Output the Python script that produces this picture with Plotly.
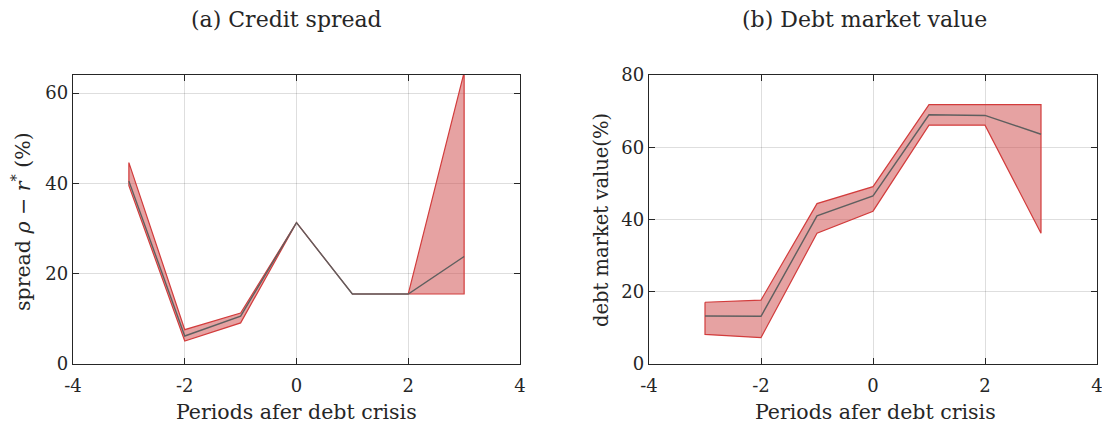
import plotly.graph_objects as go

periods = [-3, -2, -1, 0, 1, 2, 3]

spread_mean = [40.5, 6.2, 10.6, 31.3, 15.5, 15.5, 23.8]
spread_upper = [44.6, 7.6, 11.3, 31.3, 15.5, 15.5, 64.6]
spread_lower = [39.5, 5.1, 9.1, 31.3, 15.5, 15.5, 15.5]

debt_mean = [13.3, 13.2, 41.0, 46.5, 69.0, 68.8, 63.6]
debt_upper = [17.1, 17.7, 44.4, 49.1, 71.8, 71.8, 71.8]
debt_lower = [8.2, 7.3, 36.2, 42.3, 66.1, 66.1, 36.2]

x_ticks = [-4, -2, 0, 2, 4]
x_ticktext = ["-4", "-2", "0", "2", "4"]
y1_ticks = [0, 20, 40, 60]
y2_ticks = [0, 20, 40, 60, 80]

W, H = 1102, 430
FONT = "DejaVu Serif"
TXT = "#262626"
FILL = "rgba(205, 70, 70, 0.5)"
EDGE = "#d23c3c"
MEAN = "#5f5f5f"

fig = go.Figure()

def add_panel(xref, yref, lo, hi, mean):
    fig.add_trace(go.Scatter(
        x=periods + periods[::-1] + [periods[0]],
        y=hi + lo[::-1] + [hi[0]],
        fill="toself", fillcolor=FILL,
        line=dict(color=EDGE, width=1.2),
        mode="lines", xaxis=xref, yaxis=yref, hoverinfo="skip", showlegend=False))
    fig.add_trace(go.Scatter(
        x=periods, y=mean, mode="lines",
        line=dict(color=MEAN, width=1.4),
        xaxis=xref, yaxis=yref, showlegend=False))

add_panel("x", "y", spread_lower, spread_upper, spread_mean)
add_panel("x2", "y2", debt_lower, debt_upper, debt_mean)

def px_x(p):
    return p / W

def px_y(p):
    return 1 - p / H

ydom = [px_y(364), px_y(75)]

axis_common = dict(
    showline=True, linecolor=TXT, linewidth=1.3, mirror="allticks",
    ticks="inside", ticklen=6, tickcolor=TXT, tickwidth=1,
    showgrid=True, gridcolor="rgba(0,0,0,0.13)", gridwidth=1,
    zeroline=False, automargin=False, ticklabeloverflow="allow",
    tickfont=dict(family=FONT, size=18, color=TXT),
)

fig.update_layout(
    width=W, height=H,
    margin=dict(l=0, r=0, t=0, b=0, pad=0),
    paper_bgcolor="white", plot_bgcolor="white",
    showlegend=False,
    xaxis=dict(domain=[px_x(73), px_x(520)], range=[-4, 4], tickvals=x_ticks,
               ticktext=x_ticktext, anchor="y", ticklabelstandoff=5, **axis_common),
    yaxis=dict(domain=ydom, range=[0, 64], tickvals=y1_ticks, anchor="x", **axis_common),
    xaxis2=dict(domain=[px_x(649), px_x(1097)], range=[-4, 4], tickvals=x_ticks,
                ticktext=x_ticktext, anchor="y2", ticklabelstandoff=5, **axis_common),
    yaxis2=dict(domain=ydom, range=[0, 80], tickvals=y2_ticks, anchor="x2", **axis_common),
)

def ann(text, x, y, size, angle=0):
    fig.add_annotation(text=text, x=px_x(x), y=px_y(y), xref="paper", yref="paper",
                       showarrow=False, textangle=angle, xanchor="center", yanchor="middle",
                       font=dict(family=FONT, size=size, color=TXT))

ann("(a) Credit spread", 286, 20, 22)
ann("(b) Debt market value", 864, 20, 22)
ann("Periods afer debt crisis", 296, 412, 20.5)
ann("Periods afer debt crisis", 875, 412, 20.5)
ann("spread <i>ρ</i> − <i>r</i><sup>*</sup> (%)", 21, 222, 20.5, -90)
ann("debt market value(%)", 601, 220, 19.5, -90)

fig.write_html(
    "out.html",
    config={"displayModeBar": False},
    post_script="document.body.style.margin='0';document.body.style.overflow='hidden';",
)
